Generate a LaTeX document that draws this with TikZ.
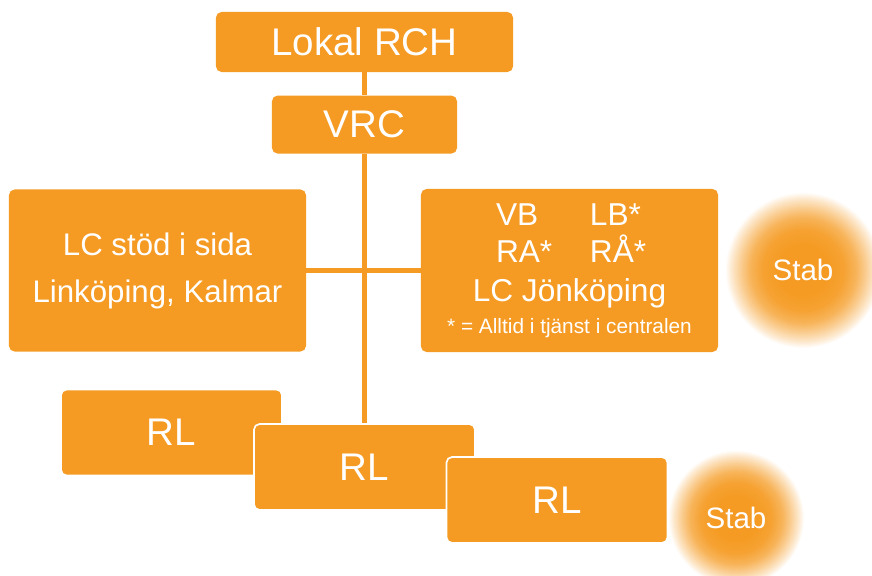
\documentclass[tikz,border=0pt]{standalone}
\usepackage{fontspec}
\setmainfont{Liberation Sans}
\usepackage{tikz}
\usetikzlibrary{positioning}

\definecolor{orng}{HTML}{F59B23}
\colorlet{orngA}{orng!93!white}
\colorlet{orngB}{orng!75!white}
\colorlet{orngC}{orng!50!white}
\colorlet{orngD}{orng!22!white}
\pgfdeclareradialshading{stabglow}{\pgfpoint{0bp}{0bp}}{%
  color(0bp)=(orng); color(8bp)=(orng); color(13bp)=(orngA);
  color(17bp)=(orngB); color(20bp)=(orngC); color(23bp)=(orngD);
  color(25bp)=(white); color(50bp)=(white)}

\begin{document}
\begin{tikzpicture}[
    x=0.025cm, y=-0.025cm,
    orgbox/.style={
        fill=orng,
        rounded corners=4pt,
        align=center,
        inner sep=0pt,
        text=white
    },
    bigtext/.style={
        font=\fontsize{27.4}{32}\selectfont
    },
    rlbox/.style={
        orgbox, bigtext,
        draw=white,
        line width=1.2pt,
        minimum width=5.525cm,
        minimum height=2.15cm
    },
    glow/.style={
        circle,
        shading=stabglow,
        inner sep=0pt,
        text=white,
        font=\fontsize{21}{25}\selectfont
    },
    link/.style={
        draw=orng,
        line width=3.5pt
    }
]
\useasboundingbox (0,0) rectangle (872,576);

% Nodes
\node (rch) [orgbox, bigtext, minimum width=7.425cm, minimum height=1.5cm] at (364.5,42) {Lokal RCH};
\node (vrc) [orgbox, bigtext, minimum width=4.625cm, minimum height=1.45cm, below=0.575cm of rch] {VRC};
\node (lcside) [orgbox, minimum width=7.425cm, minimum height=4.05cm,
    font=\fontsize{22.2}{33.4}\selectfont] at (157.5,270.5)
    {LC stöd i sida\\Linköping, Kalmar};
\node (lcjkpg) [orgbox, minimum width=7.425cm, minimum height=4.075cm,
    font=\fontsize{22.5}{27.5}\selectfont] at (569.5,270.5)
    {\makebox[40.5pt][l]{VB}\hspace{26.3pt}\makebox[37.7pt][l]{LB*}\\[-1.2pt]
     \makebox[40.5pt][l]{RA*}\hspace{26.3pt}\makebox[37.7pt][l]{RÅ*}\\
     LC Jönköping\\[-4.7pt]
     {\fontsize{14.8}{17}\selectfont * = Alltid i tjänst i centralen}};
\node (stab1) [glow, minimum size=3.9cm] at (803,270) {Stab};
\node (rl1) [rlbox] at (171.5,432.5) {RL};
\node (rl2) [rlbox] at (364.5,467) {RL};
\node (rl3) [rlbox] at (557,500) {RL};
\node (stab2) [glow, minimum size=3.4cm] at (736,518) {Stab};

% Paths
\draw [link] (rch) -- (vrc);
\draw [link] (vrc) -- (rl2);
\draw [link] (lcside) -- (lcjkpg);

\end{tikzpicture}
\end{document}
